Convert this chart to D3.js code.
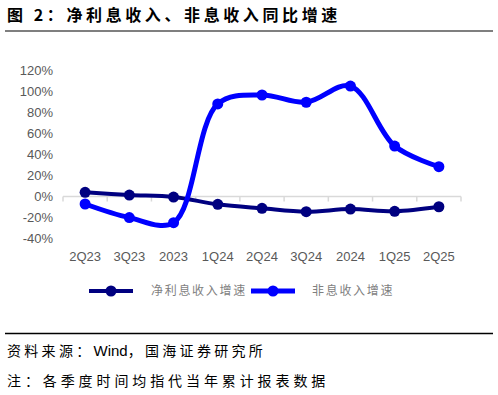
<!DOCTYPE html>
<html>
<head>
<meta charset="utf-8">
<script src="https://cdn.jsdelivr.net/npm/d3@7"></script>
<style>
  body { margin: 0; background: #fff; }
  svg { display: block; }
</style>
</head>
<body>
<div id="chart"></div>
<script>
// Chart data
const categories = ['2Q23', '3Q23', '2023', '1Q24', '2Q24', '3Q24', '2024', '1Q25', '2Q25'];
const netInterest = [4.0, 1.4, -0.5, -7.4, -11.2, -14.4, -11.9, -14.0, -9.7];
const nonInterest = [-7.1, -20.0, -24.8, 87.8, 96.3, 89.4, 104.8, 47.9, 28.3];
const yTicks = [-40, -20, 0, 20, 40, 60, 80, 100, 120];
const seriesNames = ['净利息收入增速', '非息收入增速'];

const width = 498;
const height = 395;
const cjk = '"Noto Sans CJK SC", sans-serif';
const latin = '"Liberation Sans", Arial, sans-serif';

const svg = d3.select('#chart')
  .append('svg')
  .attr('width', width)
  .attr('height', height);

// Title
svg.append('text')
  .attr('x', 7)
  .attr('y', 21)
  .attr('font-family', cjk)
  .attr('font-size', '16px')
  .attr('font-weight', 'bold')
  .attr('letter-spacing', '3.6px')
  .attr('fill', '#000')
  .text('图 2：净利息收入、非息收入同比增速');

svg.append('line')
  .attr('x1', 5).attr('x2', 493)
  .attr('y1', 31).attr('y2', 31)
  .attr('stroke', '#7f7f7f')
  .attr('stroke-width', 2);

// Scales
const x = d3.scaleBand()
  .domain(categories)
  .range([63, 461]);

const y = d3.scaleLinear()
  .domain([-40, 120])
  .range([238.7, 70]);

// Y axis labels
svg.append('g')
  .selectAll('text')
  .data(yTicks)
  .join('text')
  .attr('x', 53)
  .attr('y', d => y(d))
  .attr('dy', '0.35em')
  .attr('text-anchor', 'end')
  .attr('font-family', latin)
  .attr('font-size', '13px')
  .attr('fill', '#595959')
  .text(d => d + '%');

// X axis at zero
const xAxis = svg.append('g')
  .attr('transform', `translate(0, ${y(0)})`);

xAxis.append('line')
  .attr('x1', x.range()[0]).attr('x2', x.range()[1])
  .attr('stroke', '#d9d9d9')
  .attr('stroke-width', 1.5);

const bounds = categories.map(c => x(c)).concat([x.range()[1]]);
xAxis.selectAll('.tick')
  .data(bounds)
  .join('line')
  .attr('x1', d => d).attr('x2', d => d)
  .attr('y1', 0).attr('y2', 5)
  .attr('stroke', '#d9d9d9')
  .attr('stroke-width', 1.5);

svg.append('g')
  .selectAll('text')
  .data(categories)
  .join('text')
  .attr('x', d => x(d) + x.bandwidth() / 2)
  .attr('y', 256)
  .attr('dy', '0.35em')
  .attr('text-anchor', 'middle')
  .attr('font-family', latin)
  .attr('font-size', '13px')
  .attr('fill', '#595959')
  .text(d => d);

// Lines
const cx = (d, i) => x(categories[i]) + x.bandwidth() / 2;
const line = d3.line()
  .x(cx)
  .y(d => y(d))
  .curve(d3.curveCatmullRom.alpha(0.5));

const series = [
  { values: netInterest, color: '#000080', width: 4, r: 5.5 },
  { values: nonInterest, color: '#0000ff', width: 5, r: 5.5 }
];

series.forEach(s => {
  svg.append('path')
    .datum(s.values)
    .attr('fill', 'none')
    .attr('stroke', s.color)
    .attr('stroke-width', s.width)
    .attr('stroke-linejoin', 'round')
    .attr('d', line);

  svg.append('g')
    .selectAll('circle')
    .data(s.values)
    .join('circle')
    .attr('cx', cx)
    .attr('cy', d => y(d))
    .attr('r', s.r)
    .attr('fill', s.color);
});

// Legend
const legendItems = [
  { x1: 89, x2: 133, tx: 151 },
  { x1: 251, x2: 295, tx: 312 }
];
legendItems.forEach((item, i) => {
  const g = svg.append('g');
  g.append('line')
    .attr('x1', item.x1).attr('x2', item.x2)
    .attr('y1', 291).attr('y2', 291)
    .attr('stroke', series[i].color)
    .attr('stroke-width', series[i].width);
  g.append('circle')
    .attr('cx', (item.x1 + item.x2) / 2)
    .attr('cy', 291)
    .attr('r', 5.5)
    .attr('fill', series[i].color);
  g.append('text')
    .attr('x', item.tx)
    .attr('y', 291)
    .attr('dy', '0.35em')
    .attr('font-family', cjk)
    .attr('font-size', '12px')
    .attr('letter-spacing', '1.7px')
    .attr('fill', '#7f7f7f')
    .text(seriesNames[i]);
});

// Footer
svg.append('line')
  .attr('x1', 5).attr('x2', 493)
  .attr('y1', 333.5).attr('y2', 333.5)
  .attr('stroke', '#000')
  .attr('stroke-width', 1.5);

const source = svg.append('text')
  .attr('x', 7)
  .attr('y', 351)
  .attr('dy', '0.35em')
  .attr('font-family', cjk)
  .attr('font-size', '14px')
  .attr('fill', '#000');
source.append('tspan')
  .attr('letter-spacing', '3.3px')
  .text('资料来源：');
source.append('tspan')
  .attr('font-family', latin)
  .attr('font-size', '15px')
  .text('Wind');
source.append('tspan')
  .attr('letter-spacing', '3.3px')
  .text('，国海证券研究所');

svg.append('text')
  .attr('x', 7)
  .attr('y', 381)
  .attr('dy', '0.35em')
  .attr('font-family', cjk)
  .attr('font-size', '14px')
  .attr('letter-spacing', '3.9px')
  .attr('fill', '#000')
  .text('注：各季度时间均指代当年累计报表数据');
</script>
</body>
</html>
